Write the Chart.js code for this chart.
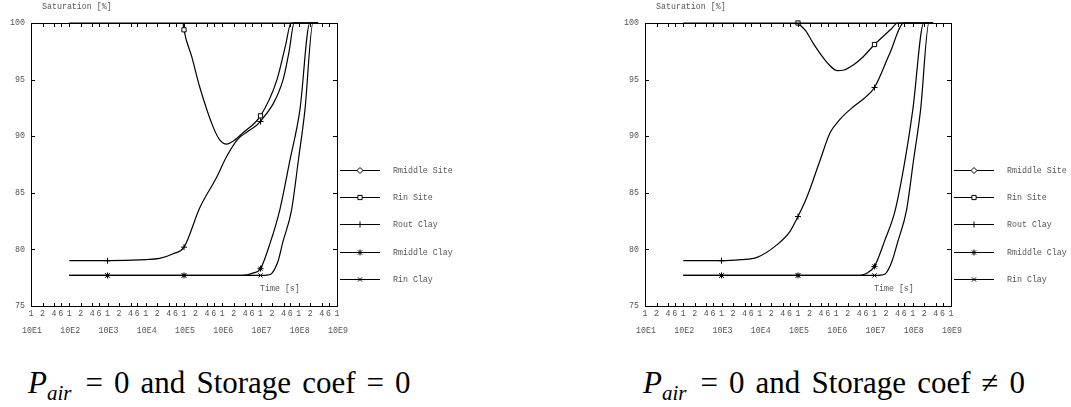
<!DOCTYPE html>
<html>
<head>
<meta charset="utf-8">
<script src="https://cdn.jsdelivr.net/npm/chart.js"></script>
<style>
  body { margin: 0; background: #fff; width: 1071px; height: 407px; position: relative; overflow: hidden; }
  canvas { position: absolute; top: 0; }
  #leftChart { left: 0; }
  #rightChart { left: 614px; }
  .cap { position: absolute; top: 367px; font-family: "Liberation Serif", "Tinos", "Times New Roman", "DejaVu Serif", serif; font-size: 31px; line-height: 31px; color: #000; white-space: nowrap; word-spacing: 3.3px; }
  .cap i { font-style: italic; }
  .cap sub { font-style: italic; font-size: 21px; vertical-align: -7px; line-height: 0; margin-right: 3px; }
</style>
</head>
<body>
<canvas id="leftChart" width="600" height="350"></canvas>
<canvas id="rightChart" width="457" height="350"></canvas>
<div class="cap" style="left:28px"><i>P</i><sub>air</sub> = 0 and Storage coef = 0</div>
<div class="cap" style="left:643px"><i>P</i><sub>air</sub> = 0 and Storage coef &#8800; 0</div>
<script>
// series, in legend order
const seriesNames = ["Rmiddle Site", "Rin Site", "Rout Clay", "Rmiddle Clay", "Rin Clay"];
const pointStyles = ["rectRot", "rect", "cross", "star", "crossRot"];
const markerTimes = [1e3, 1e5, 1e7];

// x axis ticks (time [s])
const xTickValues = [1e1, 2e1, 4e1, 6e1, 1e2, 2e2, 4e2, 6e2, 1e3, 2e3, 4e3, 6e3, 1e4, 2e4, 4e4, 6e4,
  1e5, 2e5, 4e5, 6e5, 1e6, 2e6, 4e6, 6e6, 1e7, 2e7, 4e7, 6e7, 1e8, 2e8, 4e8, 6e8, 1e9];
const xTickLabels = ["1", "2", "4", "6", "1", "2", "4", "6", "1", "2", "4", "6", "1", "2", "4", "6",
  "1", "2", "4", "6", "1", "2", "4", "6", "1", "2", "4", "6", "1", "2", "4", "6", "1"];
const decadeValues = [1e1, 1e2, 1e3, 1e4, 1e5, 1e6, 1e7, 1e8, 1e9];
const decadeLabels = ["10E1", "10E2", "10E3", "10E4", "10E5", "10E6", "10E7", "10E8", "10E9"];

// left chart: Pair = 0 and Storage coef = 0
const leftRmiddleSiteT = [1e2, 3.2e8];
const leftRmiddleSiteS = [100, 100];
const leftRinSiteT = [9.5e4, 1e5, 1.6e5, 2.6e5, 5.8e5, 8.9e5, 1.3e6, 2e6, 3.5e6, 1e7, 2.7e7, 4.5e7, 6.3e7, 3.2e8];
const leftRinSiteS = [100, 99.4, 97.0, 94.3, 90.8, 89.6, 89.3, 89.6, 90.3, 91.8, 95.0, 98.0, 100, 100];
const leftRoutClayT = [1e2, 1e3, 1e4, 2.3e4, 5e4, 1e5, 2.6e5, 7.2e5, 1.3e6, 2.5e6, 4.5e6, 1e7, 3.9e7, 5.6e7, 7.6e7, 3.2e8];
const leftRoutClayS = [79.0, 79.0, 79.1, 79.2, 79.6, 80.2, 83.7, 86.4, 88.2, 89.7, 90.4, 91.3, 95.0, 97.5, 100, 100];
const leftRmiddleClayT = [1e2, 1e3, 1e5, 3.2e6, 6.3e6, 1e7, 1.8e7, 3.2e7, 5.9e7, 1.07e8, 1.95e8, 3.2e8];
const leftRmiddleClayS = [77.7, 77.7, 77.7, 77.7, 77.9, 78.3, 80.6, 83.5, 87.9, 92.3, 100, 100];
const leftRinClayT = [1e2, 1e3, 1e5, 1e7, 1.6e7, 2e7, 2.9e7, 3.8e7, 6.5e7, 9.8e7, 1.45e8, 2.35e8, 3.2e8];
const leftRinClayS = [77.7, 77.7, 77.7, 77.7, 77.75, 77.9, 79.0, 80.6, 83.5, 87.9, 92.3, 100, 100];

// right chart: Pair = 0 and Storage coef != 0
const rightRmiddleSiteT = [1e2, 3.4e8];
const rightRmiddleSiteS = [100, 100];
const rightRinSiteT = [1e5, 1.6e5, 2.5e5, 5.8e5, 1.05e6, 1.6e6, 2.8e6, 5e6, 1e7, 2.6e7, 4.1e7, 3.4e8];
const rightRinSiteS = [100, 99.3, 98.2, 96.5, 95.8, 95.85, 96.3, 97.0, 98.1, 99.4, 100, 100];
const rightRoutClayT = [1e2, 1e3, 3.2e3, 8.5e3, 2.8e4, 6.2e4, 1e5, 1.7e5, 3.8e5, 6.9e5, 1.26e6, 2.8e6, 5.6e6, 1e7, 2.5e7, 5.9e7, 3.4e8];
const rightRoutClayS = [79.0, 79.0, 79.1, 79.3, 80.4, 81.6, 82.9, 84.6, 87.9, 90.3, 91.5, 92.6, 93.4, 94.3, 97.3, 100, 100];
const rightRmiddleClayT = [1e2, 1e3, 1e5, 3.2e6, 6.3e6, 1e7, 1.86e7, 3.5e7, 6.3e7, 1e8, 1.95e8, 3.4e8];
const rightRmiddleClayS = [77.7, 77.7, 77.7, 77.7, 77.9, 78.5, 80.8, 83.5, 87.9, 92.3, 100, 100];
const rightRinClayT = [1e2, 1e3, 1e5, 1e7, 1.6e7, 2e7, 2.9e7, 4e7, 6.9e7, 1.05e8, 1.6e8, 2.65e8, 3.4e8];
const rightRinClayS = [77.7, 77.7, 77.7, 77.7, 77.75, 77.9, 79.0, 80.6, 83.5, 87.9, 92.3, 100, 100];

const monoFont = { family: "Liberation Mono", size: 8.3 };
const textColor = "#555";

let toPoints = (ts, ss) => ts.map((t, i) => ({ x: t, y: ss[i] }));

let makeDatasets = (series) =>
  series.map(([ts, ss], i) => ({
    label: seriesNames[i],
    data: toPoints(ts, ss),
    borderColor: "#000",
    borderWidth: 1.2,
    cubicInterpolationMode: "monotone",
    fill: false,
    clip: false,
    pointStyle: pointStyles[i],
    pointBorderColor: "#000",
    pointBackgroundColor: "#fff",
    pointBorderWidth: 1,
    pointRadius: (c) => (i > 0 && markerTimes.includes(c.raw.x) ? 3 : 0),
  }));

// frame, inward ticks, extra labels and the line+marker legend
let gnuplotLook = {
  id: "gnuplotLook",
  afterDraw(chart) {
    let { ctx, chartArea: a, scales } = chart;
    let x = scales.x, y = scales.y;
    ctx.save();
    ctx.strokeStyle = "#000";
    ctx.lineWidth = 1;
    ctx.strokeRect(a.left + 0.5, a.top + 0.5, a.right - a.left, a.bottom - a.top);
    ctx.beginPath();
    xTickValues.forEach((v) => {
      let px = Math.round(x.getPixelForValue(v)) + 0.5;
      ctx.moveTo(px, a.bottom); ctx.lineTo(px, a.bottom - 3);
      ctx.moveTo(px, a.top); ctx.lineTo(px, a.top + 4);
    });
    y.ticks.forEach((t) => {
      let py = Math.round(y.getPixelForValue(t.value)) + 0.5;
      ctx.moveTo(a.left, py); ctx.lineTo(a.left + 4, py);
      ctx.moveTo(a.right, py); ctx.lineTo(a.right - 4, py);
    });
    ctx.stroke();

    ctx.fillStyle = textColor;
    ctx.font = monoFont.size + "px " + monoFont.family;
    ctx.textBaseline = "middle";
    ctx.textAlign = "center";
    decadeValues.forEach((v, i) => ctx.fillText(decadeLabels[i], x.getPixelForValue(v) + 1, 331));
    ctx.textAlign = "left";
    ctx.fillText("Saturation [%]", a.left + 11, 7);
    ctx.fillText("Time [s]", a.left + 229, 289);

    chart.data.datasets.forEach((ds, i) => {
      let ly = Math.round(a.top + 147 + i * 27.2) + 0.5;
      ctx.strokeStyle = "#000";
      ctx.beginPath();
      ctx.moveTo(a.right + 3, ly); ctx.lineTo(a.right + 43, ly);
      ctx.stroke();
      ctx.fillStyle = "#fff";
      Chart.helpers.drawPoint(ctx, { pointStyle: pointStyles[i], radius: 3, rotation: 0, borderWidth: 1 }, a.right + 23, ly);
      ctx.fillStyle = textColor;
      ctx.fillText(ds.label, a.right + 56, ly);
    });
    ctx.restore();
  },
};

let createChart = (id, series) => {
  let canvas = document.getElementById(id);
  new Chart(canvas, {
    type: "line",
    data: { datasets: makeDatasets(series) },
    options: {
      responsive: false,
      animation: false,
      events: [],
      layout: { padding: { left: 0, top: 23, right: canvas.width - 337, bottom: 0 } },
      plugins: { legend: { display: false }, tooltip: { enabled: false } },
      scales: {
        x: {
          type: "logarithmic",
          min: 1e1,
          max: 1e9,
          grid: { display: false, drawTicks: false },
          border: { display: false },
          afterBuildTicks: (s) => { s.ticks = xTickValues.map((v) => ({ value: v })); },
          afterFit: (s) => { s.height = 44; },
          ticks: {
            autoSkip: false, maxRotation: 0, minRotation: 0, padding: 3,
            color: textColor, font: monoFont,
            callback: (v, i) => xTickLabels[i],
          },
        },
        y: {
          min: 75,
          max: 100,
          grid: { display: false, drawTicks: false },
          border: { display: false },
          afterFit: (s) => { s.width = 31; },
          ticks: { stepSize: 5, padding: 6, color: textColor, font: monoFont },
        },
      },
    },
    plugins: [gnuplotLook],
  });
};

createChart("leftChart", [
  [leftRmiddleSiteT, leftRmiddleSiteS],
  [leftRinSiteT, leftRinSiteS],
  [leftRoutClayT, leftRoutClayS],
  [leftRmiddleClayT, leftRmiddleClayS],
  [leftRinClayT, leftRinClayS],
]);
createChart("rightChart", [
  [rightRmiddleSiteT, rightRmiddleSiteS],
  [rightRinSiteT, rightRinSiteS],
  [rightRoutClayT, rightRoutClayS],
  [rightRmiddleClayT, rightRmiddleClayS],
  [rightRinClayT, rightRinClayS],
]);
</script>
</body>
</html>
